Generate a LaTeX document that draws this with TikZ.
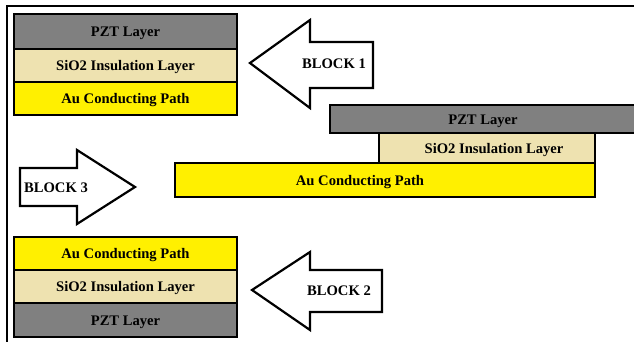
\documentclass[tikz,border=0pt]{standalone}
\usepackage{fontspec}
\setmainfont{Liberation Serif}
\definecolor{pztgray}{RGB}{128,128,128}
\definecolor{sioclr}{RGB}{238,226,176}
\definecolor{auclr}{RGB}{255,240,0}
\tikzset{
  layer/.style={draw=black, line width=2.2pt},
  pzt/.style={layer, fill=pztgray},
  sio/.style={layer, fill=sioclr},
  au/.style={layer, fill=auclr},
  ltext/.style={font=\bfseries\fontsize{14.6}{16}\selectfont, inner sep=0pt, anchor=base, yshift=-5pt},
  bigarrow/.style={draw=black, line width=2.2pt, fill=white, line join=miter},
  arrowlabel/.style={ltext},
}
\begin{document}
\begin{tikzpicture}[x=1pt,y=-1pt]
\useasboundingbox (0,0) rectangle (634,341);
\begin{scope}
\clip (0,0) rectangle (634,341);
% frame
\draw[line width=2.2pt] (7,345) -- (7,6) -- (640,6);

% Block 1
\path[pzt] (14,14) rectangle (237,49);
\node[ltext] (b1pzt) at (125.5,31.5) {PZT Layer};
\path[sio] (14,49) rectangle (237,82);
\node[ltext] (b1sio) at (125.5,65.5) {SiO2 Insulation Layer};
\path[au] (14,82) rectangle (237,115);
\node[ltext] (b1au) at (125.5,98.5) {Au Conducting Path};

% Block 2
\path[au] (14,237) rectangle (237,270);
\node[ltext] (b2au) at (125.5,253.5) {Au Conducting Path};
\path[sio] (14,270) rectangle (237,303);
\node[ltext] (b2sio) at (125.5,286.5) {SiO2 Insulation Layer};
\path[pzt] (14,303) rectangle (237,337);
\node[ltext] (b2pzt) at (125.5,320) {PZT Layer};

% Block 3 (middle stack)
\path[au] (175,163) rectangle (595,197);
\node[ltext] (b3au) at (360,180) {Au Conducting Path};
\path[sio] (379,133) rectangle (595,163);
\node[ltext] (b3sio) at (494,148.5) {SiO2 Insulation Layer};
\path[pzt] (330,105) rectangle (640,133);
\node[ltext] (b3pzt) at (483,119) {PZT Layer};

% Arrow 1 (pointing left)
\draw[bigarrow] (250,63) -- (310,20) -- (310,42) -- (373,42) -- (373,88) -- (310,88) -- (310,108) -- cycle;
\node[arrowlabel] (a1) at (334,63) {BLOCK 1};

% Arrow 2 (pointing left)
\draw[bigarrow] (252,290) -- (310,252) -- (310,270) -- (382,270) -- (382,312) -- (310,312) -- (310,330) -- cycle;
\node[arrowlabel] (a2) at (339,290) {BLOCK 2};

% Arrow 3 (pointing right)
\draw[bigarrow] (135,187) -- (77,150) -- (77,168) -- (20,168) -- (20,206) -- (77,206) -- (77,224) -- cycle;
\node[arrowlabel] (a3) at (56,187) {BLOCK 3};
\end{scope}
\end{tikzpicture}
\end{document}
